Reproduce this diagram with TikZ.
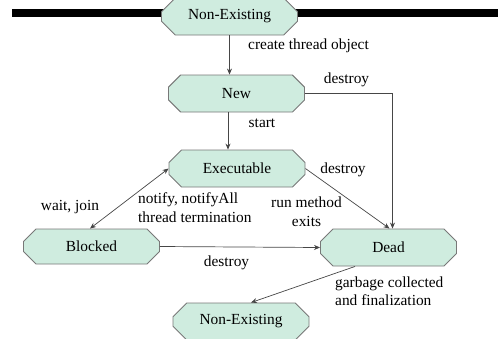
\documentclass[tikz,border=0pt]{standalone}
\usepackage{fontspec}
\setmainfont{Liberation Serif}
\usetikzlibrary{shapes.misc,arrows.meta}
\definecolor{stfill}{RGB}{207,236,223}
\definecolor{stdraw}{RGB}{120,120,120}
\definecolor{lnclr}{RGB}{70,70,70}
\begin{document}
\begin{tikzpicture}[x=1pt,y=-1pt,
  state/.style={chamfered rectangle, chamfered rectangle xsep=9pt, chamfered rectangle ysep=7pt, fill=stfill, draw=stdraw, line width=0.9pt,
    inner sep=0pt, minimum width=136pt, minimum height=37pt, font=\fontsize{15.4}{18.5}\selectfont},
  lbl/.style={inner sep=0pt, font=\fontsize{15.4}{18.5}\selectfont},
  arr/.style={draw=lnclr, line width=0.7pt, -{Stealth[length=6pt,width=5pt]}},
  darr/.style={draw=lnclr, line width=0.7pt, {Stealth[length=6pt,width=5pt]}-{Stealth[length=6pt,width=5pt]}}]
\useasboundingbox (0,0) rectangle (498,338);
\fill[black] (12,9) rectangle (498,17);
\node[state] (ne1) at (229.5,16.5) {Non-Existing};
\node[state] (new) at (236.5,93.5) {New};
\node[state] (exe) at (237,168.5) {Executable};
\node[state, minimum height=35pt] (blk) at (91.5,246.5) {Blocked};
\node[state] (dead) at (388.5,247.5) {Dead};
\node[state] (ne2) at (241,321.5) {Non-Existing};
\draw[arr] (ne1.south) -- (ne1.south |- new.north);
\draw[arr] ([xshift=-8.5pt]new.south) -- ([xshift=-9pt]exe.north);
\draw[arr] (new.east) -| ([xshift=4pt]dead.north);
\draw[arr] (exe.east) -- ([xshift=1pt]dead.north);
\draw[darr] (exe.west) -- ([xshift=-1.5pt]blk.north);
\draw[arr] (blk.east) -- (dead.west);
\draw[arr] ([xshift=-33.5pt]dead.south) -- ([xshift=10pt]ne2.north);
\node[lbl, anchor=west] (l1) at (248,46) {create thread object};
\node[lbl] (l2) at (346.5,80) {destroy};
\node[lbl] (l3) at (262,123) {start};
\node[lbl] (l4) at (343,170) {destroy};
\node[lbl] (l5) at (70,207) {wait, join};
\node[lbl, anchor=west, align=left] (l6) at (138,207.5) {notify, notifyAll\\thread termination};
\node[lbl, align=center] (l7) at (306.5,211.5) {run method\\exits};
\node[lbl] (l8) at (226.5,263) {destroy};
\node[lbl, anchor=west, align=left] (l9) at (335,291) {garbage collected\\and finalization};
\end{tikzpicture}
\end{document}
